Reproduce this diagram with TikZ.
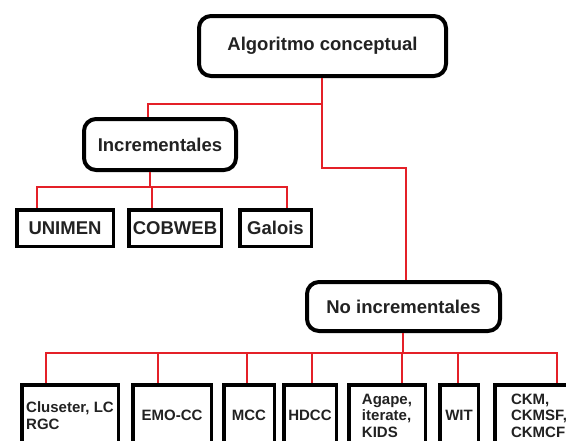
\documentclass[tikz,border=0pt]{standalone}
\usepackage{fontspec}
\setmainfont{Liberation Sans}
\definecolor{linkred}{RGB}{228,32,40}
\definecolor{inkgray}{RGB}{34,34,34}
\begin{document}
\begin{tikzpicture}[x=1pt,y=-1pt,
  headbox/.style={draw=black, line width=4pt, rounded corners=12pt, text=inkgray,
    font=\bfseries\fontsize{18.5}{22}\selectfont, inner sep=0pt},
  midbox/.style={draw=black, line width=3.5pt, text=inkgray,
    font=\bfseries\fontsize{18.5}{22}\selectfont, inner sep=0pt, minimum height=36.5pt},
  leafbox/.style={draw=black, line width=3.5pt, text=inkgray, align=left,
    font=\bfseries\fontsize{15}{16.5}\selectfont, inner sep=0pt, minimum height=62pt, anchor=north},
  link/.style={draw=linkred, line width=1.6pt}]
\clip (0,0) rectangle (566,440);
\fill[white] (0,0) rectangle (566,440);

% main headings
\node[headbox, minimum width=247pt, minimum height=60pt] (algo) at (322.5,46) {Algoritmo conceptual};
\node[headbox, minimum width=152pt, minimum height=51pt] (inc) at (160,144.5) {Incrementales};
\node[headbox, minimum width=193pt, minimum height=49pt] (noinc) at (403.5,306.5) {No incrementales};

% incremental algorithms
\node[midbox, minimum width=96.5pt] (unimen) at (65,228) {UNIMEN};
\node[midbox, minimum width=92.5pt] (cobweb) at (175,228) {COBWEB};
\node[midbox, minimum width=71.5pt] (galois) at (275.5,228) {Galois};

% non-incremental algorithms
\node[leafbox, minimum width=96.5pt] (clus) at (70,383) {Cluseter, LC\\RGC};
\node[leafbox, minimum width=78.5pt] (emo) at (172,383) {EMO-CC};
\node[leafbox, minimum width=50.5pt] (mcc) at (249,383) {MCC};
\node[leafbox, minimum width=52.5pt] (hdcc) at (310,383) {HDCC};
\node[leafbox, minimum width=76.5pt] (agape) at (387,383) {Agape,\\iterate,\\KIDS};
\node[leafbox, minimum width=38.5pt] (wit) at (459,383) {WIT};
\node[leafbox, minimum width=88.5pt] (ckm) at (539,383) {CKM,\\CKMSF,\\CKMCF};

% trunk from the root
\coordinate (trunk) at (322,104);
\coordinate (bend) at (322,168);
\coordinate (bend2) at (406,168);
\draw[link] (algo.south -| trunk) -- (bend) -- (bend2) -- (bend2 |- noinc.north);
\coordinate (incdrop) at (148,104);
\draw[link] (trunk) -- (incdrop) -- (incdrop |- inc.north);

% bus under Incrementales
\coordinate (ibus) at (150,187);
\coordinate (i1) at (37,187);
\coordinate (i2) at (152,187);
\coordinate (i3) at (287,187);
\draw[link] (ibus |- inc.south) -- (ibus);
\draw[link] (i1 |- unimen.north) -- (i1) -- (i3) -- (i3 |- galois.north);
\draw[link] (i2) -- (i2 |- cobweb.north);

% bus under No incrementales
\coordinate (nbus) at (403,353);
\coordinate (n1) at (46,353);
\coordinate (n2) at (158,353);
\coordinate (n3) at (247,353);
\coordinate (n4) at (312,353);
\coordinate (n5) at (402,353);
\coordinate (n6) at (458,353);
\coordinate (n7) at (557,353);
\draw[link] (nbus |- noinc.south) -- (nbus);
\draw[link] (n1 |- clus.north) -- (n1) -- (n7) -- (n7 |- ckm.north);
\draw[link] (n2) -- (n2 |- emo.north);
\draw[link] (n3) -- (n3 |- mcc.north);
\draw[link] (n4) -- (n4 |- hdcc.north);
\draw[link] (n5) -- (n5 |- agape.north);
\draw[link] (n6) -- (n6 |- wit.north);
\end{tikzpicture}
\end{document}
